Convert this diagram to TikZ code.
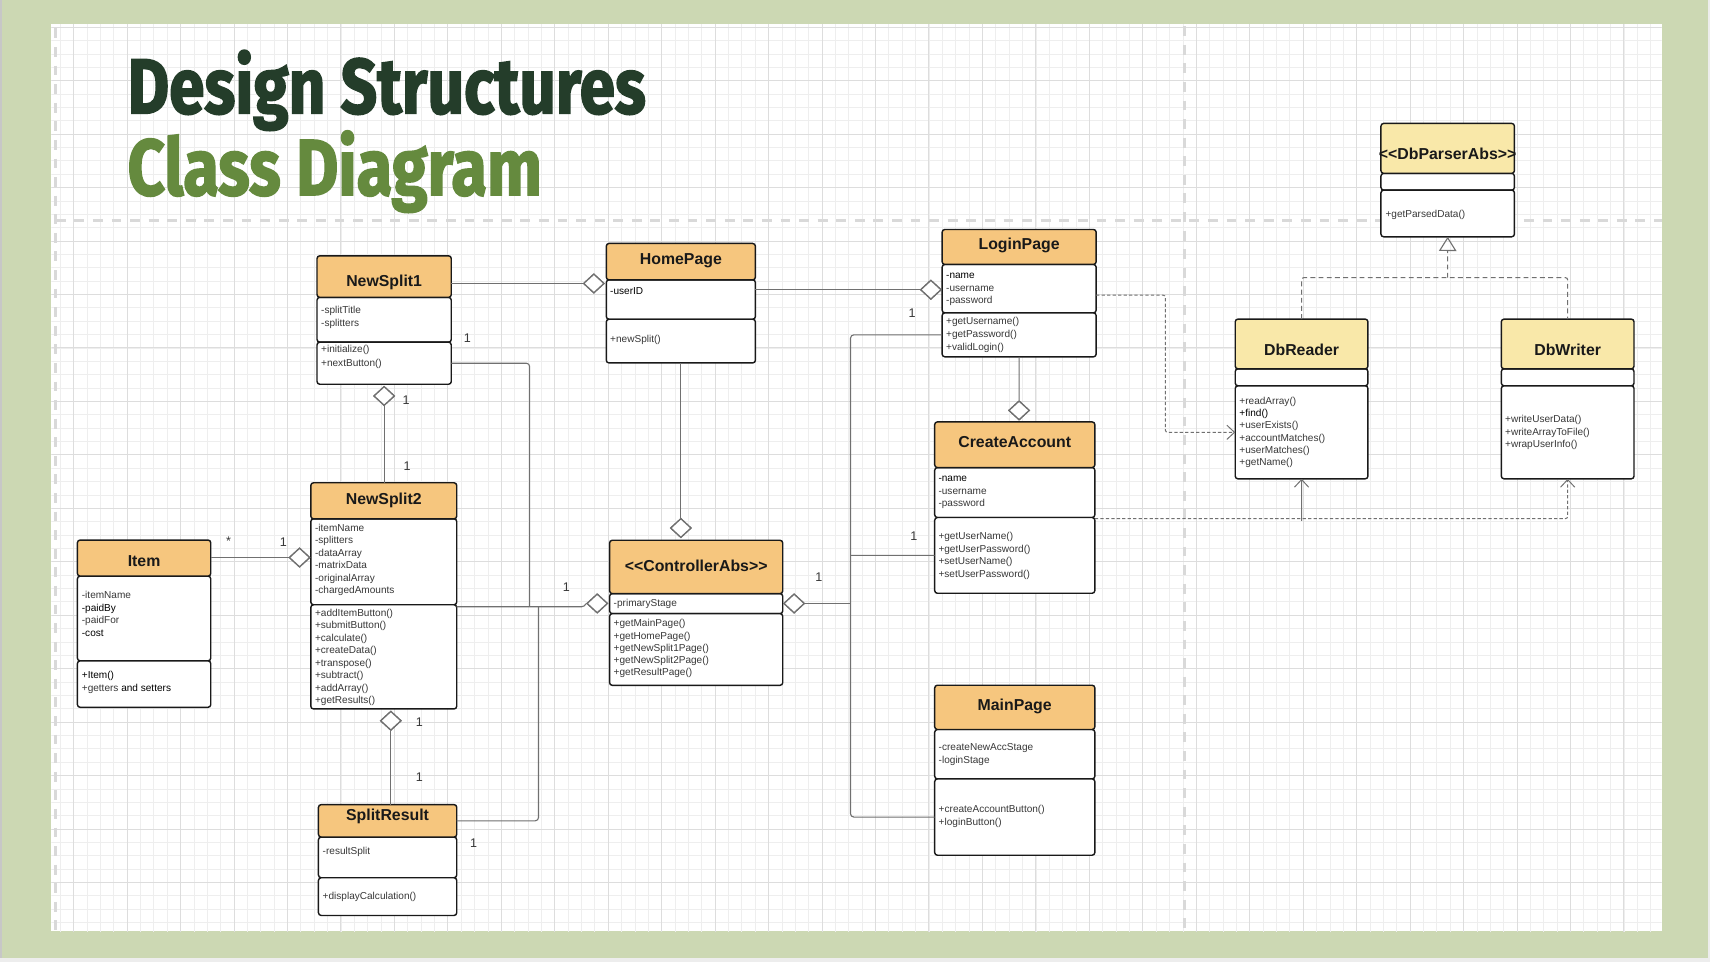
\documentclass[tikz,border=0pt]{standalone}
\usepackage{fontspec}
\setmainfont{Liberation Sans}
\newfontfamily\titlefont{Fira Sans}[BoldFeatures={FakeBold=2.2}]
\usepackage{graphicx}
\usetikzlibrary{shapes.geometric,arrows.meta,calc}
\definecolor{bggreen}{HTML}{CCD8B3}
\definecolor{gridminor}{HTML}{EEEEEE}
\definecolor{gridmajor}{HTML}{DDDDDD}
\definecolor{pageline}{HTML}{D9D9D9}
\definecolor{hdrorange}{HTML}{F6C67E}
\definecolor{hdryellow}{HTML}{F9E8A9}
\definecolor{titledark}{HTML}{243D2A}
\definecolor{titlegreen}{HTML}{658A3E}
\definecolor{conn}{HTML}{707070}
\definecolor{memtext}{HTML}{383838}
\tikzset{
  comp/.style={draw=black!90, line width=1.3pt, rounded corners=2.5pt, anchor=north west, inner sep=0pt, outer sep=0pt, fill=white},
  cname/.style={font=\bfseries\fontsize{14.5}{16}\selectfont, text=black!90, inner sep=0pt},
  member/.style={font=\fontsize{9.2}{11}\selectfont, text=memtext, inner sep=0pt, anchor=base west},
  conline/.style={draw=conn, line width=1pt, rounded corners=3pt},
  agg/.style={diamond, draw=conn, fill=white, line width=1.2pt, minimum width=19pt, minimum height=17.5pt, inner sep=0pt},
  mult/.style={font=\fontsize{11.5}{13}\selectfont, text=memtext, inner sep=0pt},
  dep/.style={draw=conn, line width=0.9pt, dash pattern=on 3pt off 2pt},
  realz/.style={draw=conn, line width=1pt, dash pattern=on 4.5pt off 3pt},
  opentip/.style={-{Straight Barb[length=7pt,width=13pt,line width=0.9pt]}},
  pagedash/.style={draw=pageline, line width=3pt, dash pattern=on 9pt off 8pt},
}
\newcommand\umlbox[8]{%
  \pgfmathsetmacro\ubW{#3-#2}%
  \pgfmathsetmacro\ubH{#5-#4}%
  \pgfmathsetmacro\ubA{#6-#5}%
  \pgfmathsetmacro\ubM{#7-#6}%
  \node[comp, minimum width=\ubW pt, minimum height=\ubA pt] (#1-a) at (#2,#5) {};
  \node[comp, minimum width=\ubW pt, minimum height=\ubM pt] (#1-m) at (#2,#6) {};
  \node[comp, fill=#8, minimum width=\ubW pt, minimum height=\ubH pt] (#1-h) at (#2,#4) {};
}
\newcommand\members[5]{%
  \foreach \mtext [count=\mi] in {#5} {
    \node[member] (#1\mi) at (#2, #3+3.2+#4*\mi-#4) {\mtext};
  }%
}
\begin{document}
\begin{tikzpicture}[x=1pt,y=-1pt]
\useasboundingbox (0,0) rectangle (1564.2,880);
% background
\fill[black!7] (0,0) rectangle (1564.2,880);
\fill[bggreen] (0,0) rectangle (1562.5,876);
\draw[black!22, line width=1.2pt] (0.8,0) -- (0.8,876);
\fill[white] (47,22) rectangle (1520,852);
% grid
\begin{scope}
\clip (47,22) rectangle (1520,852);
\foreach \i in {0,...,123} \draw[gridminor, line width=0.6pt] ({18.4+12.225*\i},0) -- ++(0,880);
\foreach \i in {0,...,72} \draw[gridminor, line width=0.6pt] (0,{12.575+12.225*\i}) -- ++(1565,0);
\foreach \i in {0,...,31} \draw[gridmajor, line width=0.8pt] ({18.4+48.9*\i},0) -- ++(0,880);
\foreach \i in {0,...,18} \draw[gridmajor, line width=0.8pt] (0,{24.8+48.9*\i}) -- ++(1565,0);
\end{scope}
% page break lines
\draw[pagedash] (51,202) -- (1520,202);
\draw[pagedash] (1083.5,24) -- (1083.5,852);
\draw[pagedash] (51,26) -- (51,852);
% title
\node[anchor=base west, inner sep=0pt, text=titledark] (title1) at (116.5,103.7)
  {\resizebox{474pt}{49.4pt}{\titlefont\bfseries\rule{0pt}{\fontcharht\font`D}\smash{Design Structures}}};
\node[anchor=base west, inner sep=0pt, text=titlegreen] (title2) at (116.5,178.4)
  {\resizebox{379pt}{50.3pt}{\titlefont\bfseries\rule{0pt}{\fontcharht\font`D}\smash{Class Diagram}}};

% ---------- aggregation diamonds ----------
\node[agg] (dHP) at (543.2,259.3) {};
\node[agg] (dLP) at (851.5,265) {};
\node[agg] (dCT) at (622.8,483) {};
\node[agg] (dNS1) at (351.4,362.2) {};
\node[agg] (dNS2) at (274,510) {};
\node[agg] (dNS2b) at (357.5,659.3) {};
\node[agg] (dCL) at (546.3,552) {};
\node[agg] (dCR) at (726.4,552) {};
\node[agg] (dCA) at (932.2,375.4) {};

% ---------- classes ----------
\umlbox{NS1}{290}{412.8}{234}{272}{313}{351.5}{hdrorange}
\node[cname] (NS1) at (351.4,258.6) {NewSplit1};
\members{NS1-a}{293.6}{283.6}{11.8}{-splitTitle,-splitters}
\members{NS1-m}{293.6}{319.6}{12.2}{+initialize(),+nextButton()}

\umlbox{HP}{554.6}{691}{222.7}{256}{292}{332}{hdrorange}
\node[cname] (HP) at (622.8,238.5) {HomePage};
\members{HP-a}{558}{266}{11.5}{{\color{black}-userID}}
\members{HP-m}{558}{310.2}{11.5}{+newSplit()}

\umlbox{IT}{70.8}{192.8}{494}{527}{604.5}{647}{hdrorange}
\node[cname] (IT) at (131.8,513) {Item};
\members{IT-a}{74.7}{544.4}{11.5}{-itemName,{\color{black}-paidBy},-paidFor,{\color{black}-cost}}
\members{IT-m}{74.7}{617.6}{11.9}{{\color{black}+Item()},{+getters {\color{black}and setters}}}

\umlbox{NS2}{284.3}{417.8}{441.6}{474.6}{553.2}{648.5}{hdrorange}
\node[cname] (NS2) at (351,457.5) {NewSplit2};
\members{NS2-a}{288}{482.8}{11.4}{-itemName,-splitters,-dataArray,-matrixData,-originalArray,-chargedAmounts}
\members{NS2-m}{288}{560.5}{11.4}{+addItemButton(),+submitButton(),+calculate(),+createData(),+transpose(),+subtract(),+addArray(),+getResults()}

\umlbox{SR}{291.3}{417.8}{736}{765.7}{802.9}{837.4}{hdrorange}
\node[cname] (SR) at (354.5,746.5) {SplitResult};
\members{SR-a}{295}{778.8}{11.5}{-resultSplit}
\members{SR-m}{295}{819.7}{11.5}{+displayCalculation()}

\umlbox{CA}{557.6}{716}{494.2}{543}{561.3}{626.9}{hdrorange}
\node[cname] (CA) at (636.8,518) {<{}<ControllerAbs>{}>};
\members{CA-a}{561.2}{552}{11.2}{-primaryStage}
\members{CA-m}{561.2}{570.3}{11.2}{+getMainPage(),+getHomePage(),+getNewSplit1Page(),+getNewSplit2Page(),+getResultPage()}

\umlbox{LP}{861.8}{1002.7}{209.9}{241.9}{286.2}{326.4}{hdrorange}
\node[cname] (LP) at (932.2,224.2) {LoginPage};
\members{LP-a}{865.3}{251.7}{11.5}{{\color{black}-name},-username,-password}
\members{LP-m}{865.3}{293.5}{11.9}{+getUsername(),+getPassword(),+validLogin()}

\umlbox{CR}{855}{1001.5}{385.9}{427.7}{473.4}{542.7}{hdrorange}
\node[cname] (CR) at (928.2,404.8) {CreateAccount};
\members{CR-a}{858.3}{437.7}{11.3}{{\color{black}-name},-username,-password}
\members{CR-m}{858.3}{490.5}{11.4}{+getUserName(),+getUserPassword(),+setUserName(),+setUserPassword()}

\umlbox{MP}{855}{1001.5}{626.8}{667.3}{712.5}{782.3}{hdrorange}
\node[cname] (MP) at (928.2,646) {MainPage};
\members{MP-a}{858.5}{683.5}{11.9}{-createNewAccStage,-loginStage}
\members{MP-m}{858.5}{740.2}{11.6}{+createAccountButton(),+loginButton()}

\umlbox{DP}{1263.2}{1385.3}{112.9}{158.6}{173.9}{216.6}{hdryellow}
\node[cname] (DP) at (1324.2,141) {<{}<DbParserAbs>{}>};
\members{DP-m}{1267.2}{195.8}{11.2}{+getParsedData()}

\umlbox{DR}{1129.9}{1251.3}{291.9}{337.4}{352.9}{438}{hdryellow}
\node[cname] (DR) at (1190.6,320.3) {DbReader};
\members{DR-m}{1133.6}{366.6}{11.2}{+readArray(),{\color{black}+find()},+userExists(),+accountMatches(),+userMatches(),+getName()}

\umlbox{DW}{1373.3}{1494.7}{291.9}{337.4}{352.9}{438}{hdryellow}
\node[cname] (DW) at (1434,320.3) {DbWriter};
\members{DW-m}{1376.6}{383.4}{11.4}{+writeUserData(),+writeArrayToFile(),+wrapUserInfo()}

% ---------- connectors ----------
\draw[conline] (NS1-h.east |- dHP.west) -- (dHP.west);
\draw[conline] (HP-a.east |- dLP.west) -- (dLP.west);
\draw[conline] (HP-m.south -| dCT.north) -- (dCT.north);
\draw[conline] (dNS1.south) -- (dNS1.south |- NS2-h.north);
\draw[conline] (IT-h.east |- dNS2.west) -- (dNS2.west);
\draw[conline] (dNS2b.south) -- (dNS2b.south |- SR-h.north);
\draw[conline] (NS1-m.east) -- (484.5,332.25) -- (484.5,555);
\draw[conline] ([yshift=-1.8pt]NS2-m.north east) -- (535,555) -- (dCL.west);
\draw[conline] (SR-h.east) -- (492.6,750.85) -- (492.6,555);
\draw[conline] (dCR.east) -- (778,552);
\draw[conline] (LP-m.west) -- (778,306.3) -- (778,747.4) -- (MP-m.west);
\draw[conline] (CR-m.west) -- (778,508.05);
\draw[conline] (LP-m.south) -- (dCA.north);
% redraw diamonds on top of their lines
\foreach \d in {dHP,dLP,dCT,dNS1,dNS2,dNS2b,dCL,dCR,dCA} \node[agg] at (\d) {};

% dependencies
\draw[dep, opentip, rounded corners=2pt] ([yshift=-6pt]LP-a.east) -- (1066,270) -- (1066,395.45) -- (DR-m.west);
\draw[dep, opentip, rounded corners=2pt] ([yshift=-1pt]CR-m.north east) -- (1434,474.4) -- (DW-m.south);
\coordinate (jDR) at (1190.6,476.5);
\draw[conn, line width=0.9pt, opentip] (jDR) -- (DR-m.south);
% realization
\coordinate (jR) at (1324.2,254);
\draw[realz, rounded corners=2pt] (DR-h.north) |- (jR) -| (DW-h.north);
\draw[realz, -{Triangle[open, length=13pt, width=16pt, line width=1pt]}] (jR) -- (DP-m.south);

% multiplicities
\node[mult] (m1) at (427.6,309.6) {1};
\node[mult] (m2) at (371.5,366) {1};
\node[mult] (m3) at (372.5,426) {1};
\node[mult] (m4) at (209,495) {*};
\node[mult] (m5) at (259.3,495.6) {1};
\node[mult] (m6) at (383.7,660.4) {1};
\node[mult] (m7) at (383.7,711.2) {1};
\node[mult] (m8) at (433.2,771.6) {1};
\node[mult] (m9) at (518,537.3) {1};
\node[mult] (m10) at (749,527.7) {1};
\node[mult] (m11) at (834.3,286.1) {1};
\node[mult] (m12) at (836,490) {1};
\end{tikzpicture}
\end{document}
